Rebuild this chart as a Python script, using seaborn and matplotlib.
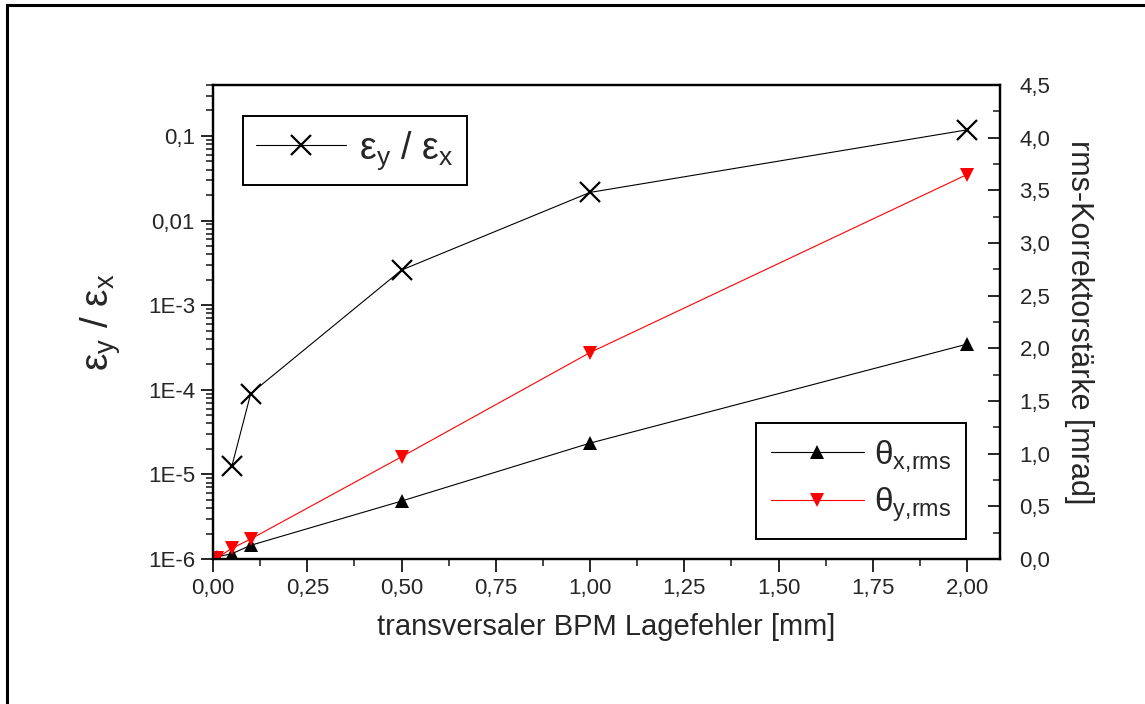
import numpy as np
import pandas as pd
import matplotlib
matplotlib.use("Agg")
import matplotlib.pyplot as plt
import matplotlib.ticker as mticker
from matplotlib.lines import Line2D
from matplotlib.patches import Rectangle
import seaborn as sns

# ---- data ----
x_eps = [0.05, 0.1, 0.5, 1.0, 2.0]
eps_ratio = [1.25e-5, 9.0e-5, 2.6e-3, 2.15e-2, 0.118]
x_theta = [0.01, 0.05, 0.1, 0.5, 1.0, 2.0]
theta_x = [0.02, 0.05, 0.13, 0.55, 1.10, 2.04]
theta_y = [0.01, 0.10, 0.19, 0.97, 1.96, 3.65]
x_ticks = [0.0, 0.25, 0.5, 0.75, 1.0, 1.25, 1.5, 1.75, 2.0]
log_ticks = [1e-6, 1e-5, 1e-4, 1e-3, 1e-2, 1e-1]
log_labels = ["1E-6", "1E-5", "1E-4", "1E-3", "0,01", "0,1"]

sns.set_style("white")
plt.rcParams["font.family"] = ["Liberation Sans", "DejaVu Sans"]
plt.rcParams["mathtext.default"] = "regular"
plt.rcParams["axes.linewidth"] = 1.6

fig = plt.figure(figsize=(11.45, 7.04), dpi=100)
ax = fig.add_axes([213/1145, 1-559/704, (1000-213)/1145, (559-85)/704])
ax2 = ax.twinx()

df_eps = pd.DataFrame({"x": x_eps, "y": eps_ratio})
df_th = pd.DataFrame({"x": x_theta, "tx": theta_x, "ty": theta_y})

sns.lineplot(data=df_eps, x="x", y="y", ax=ax, color="black", lw=0.8,
             marker="x", markersize=14, markeredgewidth=1.6,
             markeredgecolor="black", sort=False, estimator=None)
ax.set_yscale("log")
ax.set_ylim(1e-6, 0.4)
ax.set_xlim(0.0, 2.0875)

sns.lineplot(data=df_th, x="x", y="tx", ax=ax2, color="black", lw=0.8,
             marker="^", markersize=10, markeredgewidth=0,
             sort=False, estimator=None)
sns.lineplot(data=df_th, x="x", y="ty", ax=ax2, color="red", lw=0.8,
             marker="v", markersize=10, markeredgewidth=0,
             sort=False, estimator=None)
ax2.set_ylim(0, 4.5)
ax2.set_xlim(0.0, 2.0875)

# ticks: left log axis
ax.yaxis.set_major_locator(mticker.FixedLocator(log_ticks))
ax.yaxis.set_major_formatter(mticker.FixedFormatter(log_labels))
ax.yaxis.set_minor_locator(mticker.LogLocator(base=10, subs=np.arange(2, 10)))
ax.yaxis.set_minor_formatter(mticker.NullFormatter())
ax.tick_params(axis="y", which="major", direction="out", length=9, width=1.4,
               labelsize=16, pad=4, left=True)
ax.tick_params(axis="y", which="minor", direction="out", length=5, width=1.2, left=True)

# bottom x axis
ax.xaxis.set_major_locator(mticker.FixedLocator(x_ticks))
ax.xaxis.set_minor_locator(mticker.MultipleLocator(0.125))
ax.xaxis.set_major_formatter(mticker.FuncFormatter(lambda v, p: f"{v:.2f}".replace(".", ",")))
ax.tick_params(axis="x", which="major", direction="out", length=9, width=1.4,
               labelsize=16, pad=5, bottom=True)
ax.tick_params(axis="x", which="minor", direction="out", length=5, width=1.2, bottom=True)

# top axis ticks (inward) via twin's x axis
ax2.xaxis.set_major_locator(mticker.FixedLocator(x_ticks))
ax2.xaxis.set_minor_locator(mticker.MultipleLocator(0.125))
ax2.tick_params(axis="x", which="both", top=True, bottom=False, labeltop=False,
                labelbottom=False, direction="in", width=1.4)
ax2.tick_params(axis="x", which="major", length=9)
ax2.tick_params(axis="x", which="minor", length=5)

# right axis
ax2.yaxis.set_major_locator(mticker.MultipleLocator(0.5))
ax2.yaxis.set_minor_locator(mticker.MultipleLocator(0.25))
ax2.yaxis.set_major_formatter(mticker.FuncFormatter(lambda v, p: f"{v:.1f}".replace(".", ",")))
ax2.tick_params(axis="y", which="major", direction="in", length=9, width=1.4,
                labelsize=16, pad=14, right=True)
ax2.tick_params(axis="y", which="minor", direction="in", length=5, width=1.2, right=True)

ax.set_xlabel("transversaler BPM Lagefehler [mm]", fontsize=21, labelpad=10)
ax.set_ylabel("ε$_y$ / ε$_x$", fontsize=28, labelpad=18)
ax2.set_ylabel("rms-Korrektorstärke [mrad]", fontsize=22, rotation=-90,
               labelpad=10, va="bottom")
ax2.set_xlabel("")

for a in (ax, ax2):
    for s in a.spines.values():
        s.set_visible(True)
        s.set_color("black")
        s.set_linewidth(1.6)

# legends
h1 = Line2D([], [], color="black", lw=0.8, marker="x", markersize=14,
            markeredgewidth=1.6)
leg1 = ax2.legend([h1], ["ε$_y$ / ε$_x$"], loc="upper left",
                  bbox_to_anchor=(0.038, 0.935), borderaxespad=0,
                  fontsize=27, handlelength=2.4, fancybox=False,
                  framealpha=1, edgecolor="black", borderpad=0.35,
                  handletextpad=0.35)
leg1.get_frame().set_linewidth(1.4)
ax2.add_artist(leg1)

h2 = Line2D([], [], color="black", lw=0.8, marker="^", markersize=10,
            markeredgewidth=0)
h3 = Line2D([], [], color="red", lw=0.8, marker="v", markersize=10,
            markeredgewidth=0)
leg2 = ax2.legend([h2, h3], ["θ$_{x{,}rms}$", "θ$_{y{,}rms}$"], loc="lower right",
                  bbox_to_anchor=(0.957, 0.042), borderaxespad=0,
                  fontsize=24, handlelength=2.8, fancybox=False,
                  framealpha=1, edgecolor="black", borderpad=0.45,
                  handletextpad=0.3, labelspacing=0.35)
leg2.get_frame().set_linewidth(1.4)

# outer frame
fig.patches.append(Rectangle((7/1145, -0.1), 1.2, 1.1 - 5/704,
                             transform=fig.transFigure, fill=False,
                             edgecolor="black", linewidth=2.2))

fig.savefig("out.png", dpi=100)
